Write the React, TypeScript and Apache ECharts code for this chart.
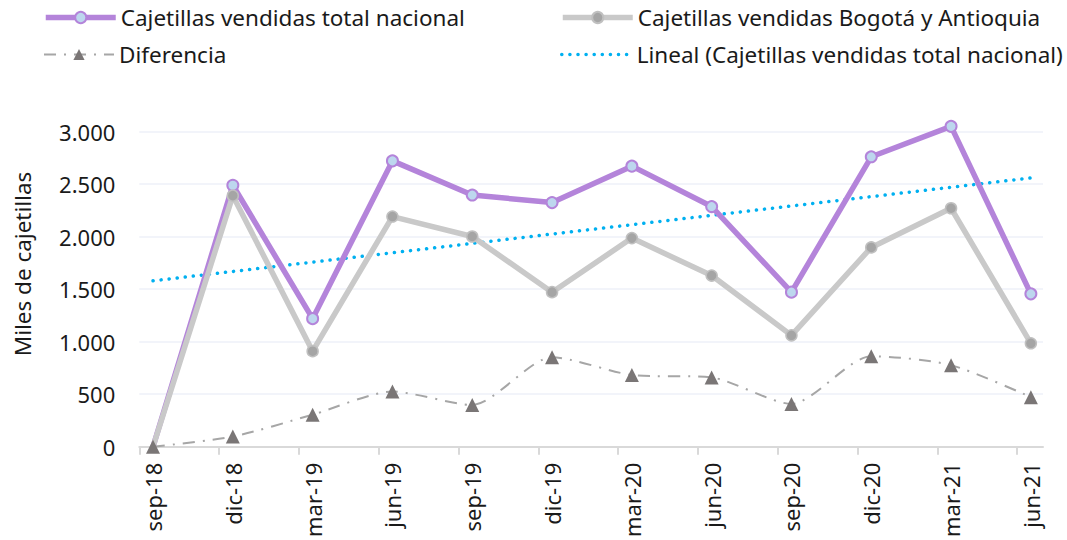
import React, { useEffect, useRef } from "react";
import * as echarts from "echarts";

const categories = ["sep-18", "dic-18", "mar-19", "jun-19", "sep-19", "dic-19", "mar-20", "jun-20", "sep-20", "dic-20", "mar-21", "jun-21"];
const totalNacional = [0, 2490, 1220, 2722, 2397, 2325, 2672, 2287, 1472, 2761, 3051, 1456];
const bogotaAntioquia = [0, 2391, 910, 2192, 2002, 1472, 1987, 1630, 1061, 1898, 2271, 985];
const diferencia = [0, 97, 305, 525, 398, 853, 683, 660, 408, 862, 777, 472];
const trendEnds = [1580, 2560];
const yTicks = [0, 500, 1000, 1500, 2000, 2500, 3000];

const FONT = "'Noto Sans', 'Open Sans', sans-serif";
const X_MIN = -0.172;
const X_MAX = 11.152;

const fmt = (v: number) => {
  const s = String(Math.round(v));
  return s.replace(/\B(?=(\d{3})+(?!\d))/g, ".");
};

export default function App() {
  const ref = useRef<HTMLDivElement>(null);
  useEffect(() => {
    if (!ref.current) return;
    const chart = echarts.init(ref.current, undefined, { renderer: "svg" });
    const pairs = (arr: number[], hideFirst = false) =>
      arr.map((v, i) => (hideFirst && i === 0 ? { value: [i, v], symbol: "none" } : [i, v]));
    const legendText = { fontSize: 22.5, fontFamily: FONT, color: "#1a1a1a" };
    const names = [
      "Cajetillas vendidas total nacional",
      "Cajetillas vendidas Bogotá y Antioquia",
      "Diferencia",
      "Lineal (Cajetillas vendidas total nacional)",
    ];
    const legendPos = [
      { left: 43, top: 6 },
      { left: 560, top: 6 },
      { left: 43, top: 43 },
      { left: 560, top: 43 },
    ];
    const legendExtra: any[] = [
      { lineStyle: { width: 5.5 } },
      { lineStyle: { width: 5.5 } },
      { lineStyle: { width: 2 } },
      { lineStyle: { width: 3.5 }, itemStyle: { opacity: 0 } },
    ];
    chart.setOption({
      animation: false,
      legend: names.map((n, i) => ({
        data: [n],
        ...legendPos[i],
        itemWidth: 70,
        itemHeight: 14,
        textStyle: legendText,
        padding: 0,
        itemGap: 6,
        ...legendExtra[i],
      })),
      grid: { left: 139.3, right: 24, top: 131.7, bottom: 92, containLabel: false },
      graphic: [
        {
          type: "text",
          x: 22,
          y: 264,
          rotation: Math.PI / 2,
          style: {
            text: "Miles de cajetillas",
            fontSize: 22.5,
            fontFamily: FONT,
            fill: "#1a1a1a",
            align: "center",
            verticalAlign: "middle",
          },
        },
      ],
      xAxis: {
        type: "value",
        min: X_MIN,
        max: X_MAX,
        axisLine: { show: true, lineStyle: { color: "#d9d9d9", width: 2 } },
        axisTick: {
          show: true,
          length: 8,
          lineStyle: { color: "#d9d9d9", width: 2 },
          customValues: categories.map((_, i) => X_MIN + i),
        },
        splitLine: { show: false },
        axisLabel: {
          customValues: categories.map((_, i) => i),
          formatter: (v: number) => categories[Math.round(v)] ?? "",
          rotate: 90,
          margin: 16,
          fontSize: 22,
          fontFamily: FONT,
          color: "#1a1a1a",
        },
      },
      yAxis: {
        type: "value",
        min: yTicks[0],
        max: yTicks[yTicks.length - 1],
        interval: 500,
        axisLine: { show: false },
        axisTick: { show: false },
        splitLine: { lineStyle: { color: "#eef0f8", width: 1.5 } },
        axisLabel: {
          formatter: fmt,
          margin: 24,
          fontSize: 22,
          fontFamily: FONT,
          color: "#1a1a1a",
        },
      },
      series: [
        {
          name: names[3],
          type: "line",
          data: [[0, trendEnds[0]], [11, trendEnds[1]]],
          symbol: "none",
          clip: false,
          z: 1,
          lineStyle: { color: "#00b0f0", width: 3.5, type: [0.1, 8], cap: "round" },
          itemStyle: { color: "#00b0f0" },
        },
        {
          name: names[0],
          type: "line",
          data: pairs(totalNacional, true),
          symbol: "circle",
          symbolSize: 11,
          clip: false,
          z: 3,
          lineStyle: { color: "#b484da", width: 5.5 },
          itemStyle: { color: "#bdd7ee", borderColor: "#b484da", borderWidth: 2 },
        },
        {
          name: names[1],
          type: "line",
          data: pairs(bogotaAntioquia, true),
          symbol: "circle",
          symbolSize: 11,
          clip: false,
          z: 4,
          lineStyle: { color: "#c9c9c9", width: 5.5 },
          itemStyle: { color: "#a5a5a5", borderColor: "#c0c0c0", borderWidth: 1.5 },
        },
        {
          name: names[2],
          type: "line",
          data: pairs(diferencia),
          smooth: 0.25,
          symbol: "triangle",
          symbolSize: 14,
          clip: false,
          z: 5,
          lineStyle: { color: "#a6a6a6", width: 2, type: [12, 8, 2, 8] },
          itemStyle: { color: "#7a7676", borderWidth: 0 },
        },
      ],
    });
    return () => chart.dispose();
  }, []);
  return <div ref={ref} style={{ width: 1067, height: 540, position: "absolute", left: 0, top: 0 }} />;
}
